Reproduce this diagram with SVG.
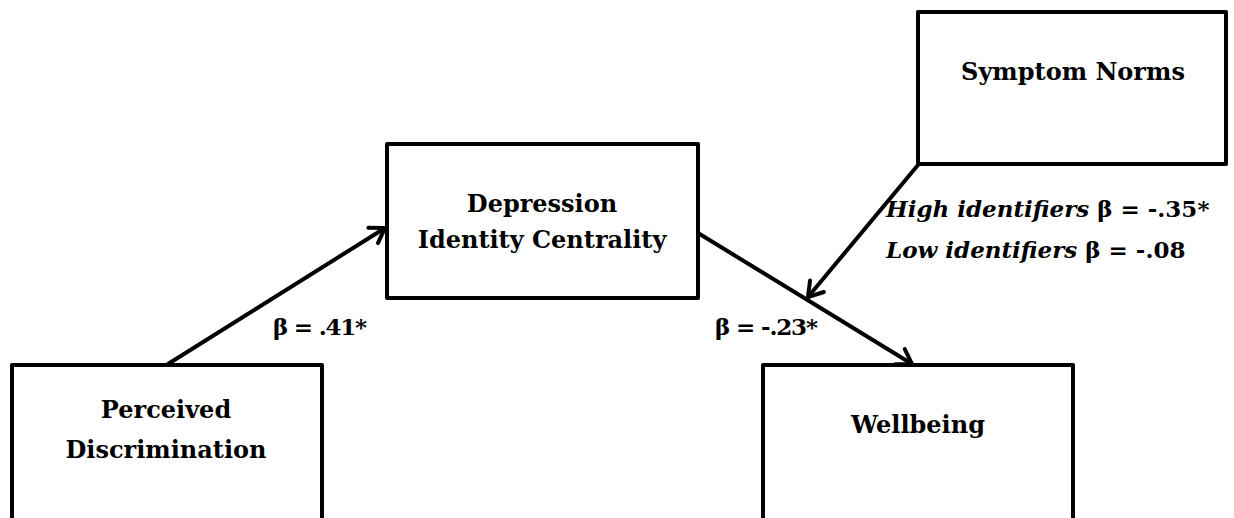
<svg xmlns="http://www.w3.org/2000/svg" width="1234" height="518" viewBox="0 0 1234 518">
<style>
.box{fill:#fff;stroke:#000;stroke-width:4;stroke-linejoin:round}
.t{font-family:"DejaVu Serif","Liberation Serif",serif;font-weight:bold;font-size:24px;fill:#000;text-anchor:middle}
.lab{font-family:"DejaVu Serif","Liberation Serif",serif;font-weight:bold;font-size:23px;fill:#000}
.conn{fill:none;stroke:#000;stroke-width:4;stroke-linecap:round}
</style>
<defs>
<marker id="ah" markerUnits="userSpaceOnUse" markerWidth="30" markerHeight="30" viewBox="-20 -15 30 30" refX="0" refY="0" orient="auto">
<path d="M-14,-9 L0,0 L-14,9" fill="none" stroke="#000" stroke-width="4" stroke-linecap="round" stroke-linejoin="round"/>
</marker>
</defs>
<rect width="1234" height="518" fill="#fff"/>
<g id="perceived">
<rect class="box" x="12" y="365" width="310" height="170"/>
<text class="t" x="166" y="418">Perceived</text>
<text class="t" x="166" y="458">Discrimination</text>
</g>
<g id="depression">
<rect class="box" x="387" y="144" width="311" height="154"/>
<text class="t" x="542" y="212">Depression</text>
<text class="t" x="542" y="248">Identity Centrality</text>
</g>
<g id="symptom">
<rect class="box" x="918" y="12" width="308" height="152"/>
<text class="t" x="1073" y="80">Symptom Norms</text>
</g>
<g id="wellbeing">
<rect class="box" x="763" y="365" width="310" height="170"/>
<text class="t" x="918" y="433">Wellbeing</text>
</g>
<g id="connectors">
<line class="conn" x1="168" y1="364" x2="385" y2="228" marker-end="url(#ah)"/>
<line class="conn" x1="698" y1="233" x2="912" y2="364" marker-end="url(#ah)"/>
<line class="conn" x1="918" y1="165" x2="808" y2="297" marker-end="url(#ah)"/>
</g>
<g id="labels">
<text class="lab" x="273" y="335" textLength="94" lengthAdjust="spacing">β = .41*</text>
<text class="lab" x="715" y="335" textLength="103" lengthAdjust="spacing">β = -.23*</text>
<text class="lab" x="886" y="217"><tspan font-style="italic">High identifiers</tspan> β = -.35*</text>
<text class="lab" x="886" y="258"><tspan font-style="italic">Low identifiers</tspan>  β = -.08</text>
</g>
</svg>
